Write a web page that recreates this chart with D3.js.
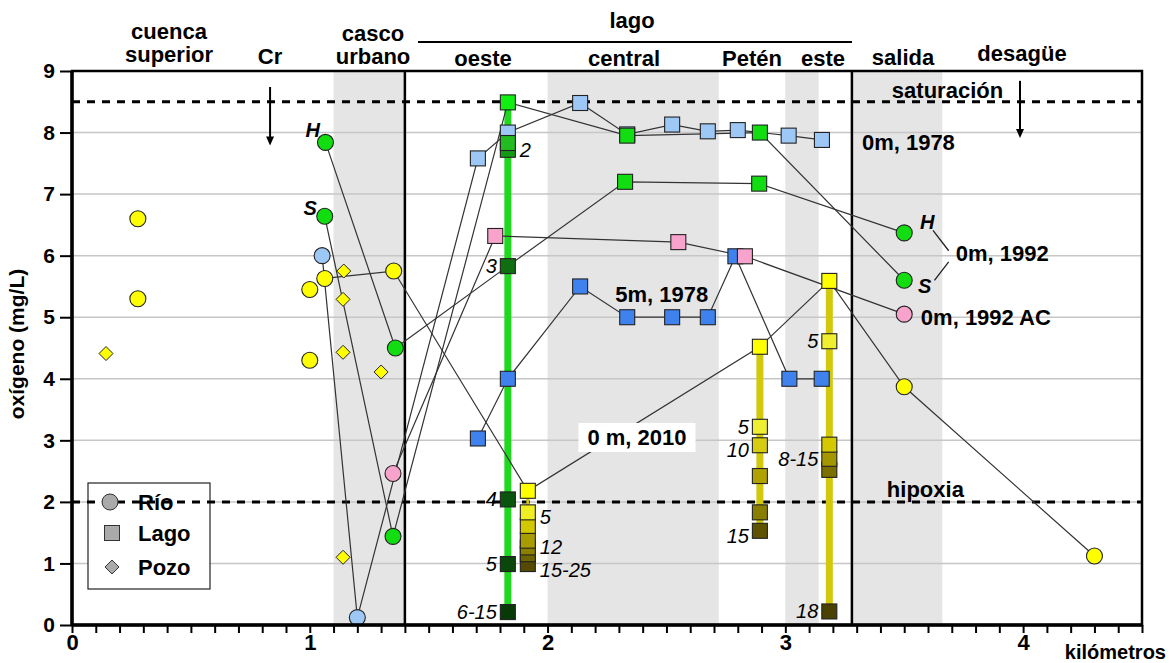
<!DOCTYPE html>
<html><head><meta charset="utf-8">
<script src="https://cdn.jsdelivr.net/npm/d3@7"></script>
<style>body{margin:0;background:#fff} text{font-family:"Liberation Sans",Arial,sans-serif;fill:#000}</style>
</head><body><svg id="c" width="1171" height="663"></svg>
<script>
// ---------------- DATA ----------------
const yTickValues = [0,1,2,3,4,5,6,7,8,9];
const xMajorTicks = [0,1,2,3,4];
const grayBands = [[1.1,1.4],[2.0,2.72],[3.0,3.14],[3.28,3.66]];
const dividers = [1.4, 3.28];
const saturacion = 8.5;
const hipoxia = 2.0;

// isolated river (yellow) circles and wells
const rioAislados = [[0.277,6.6],[0.277,5.3],[1.0,5.45],[1.0,4.3]];
const pozos = [[0.143,4.41],[1.143,5.75],[1.14,5.29],[1.14,4.43],[1.30,4.11],[1.14,1.10]];

// 0m 1978 (light blue)
const m0y1978Rio = [[1.052,6.0],[1.2,0.12]];
const m0y1978Lago = [[1.707,7.58],[1.833,8.0],[2.137,8.48],[2.335,7.97],[2.524,8.13],[2.674,8.02],[2.80,8.04],[3.014,7.95],[3.154,7.88]];
// 5m 1978 (blue)
const m5y1978Lago = [[1.707,3.03],[1.833,4.0],[2.137,5.5],[2.335,5.0],[2.524,5.0],[2.674,5.0],[2.79,5.99],[3.017,4.0],[3.153,4.0]];
// 0m 1992 H (green)
const hRio = [[1.066,7.84],[1.36,4.5]];
const hLago = [[1.833,5.83],[2.326,7.2],[2.89,7.17]];
const hSalida = [[3.5,6.37]];
// 0m 1992 S (green)
const sRio = [[1.063,6.64],[1.35,1.44]];
const sLago = [[1.833,8.49],[2.335,7.95],[2.893,8.0]];
const sSalida = [[3.5,5.6]];
// 0m 1992 AC (pink)
const acRio = [[1.35,2.46]];
const acLago = [[1.78,6.32],[2.55,6.22],[2.83,5.99]];
const acSalida = [[3.5,5.05]];
// 0 m 2010 (yellow)
const y2010Rio = [[1.063,5.63],[1.353,5.75]];
const y2010Lago = [[1.917,2.18],[2.893,4.52],[3.185,5.59]];
const y2010Salida = [[3.5,3.87],[4.3,1.12]];

// depth profiles
const perfilOesteX = 1.833;
const perfilOesteVals = [8.49,7.83,7.72,5.83,2.04,0.99,0.21];
const perfilOesteLabels = [[7.72,"2","r"],[5.83,"3","l"],[2.04,"4","l"],[0.99,"5","l"],[0.21,"6-15","l"]];

const perfil2010OesteX = 1.917;
const perfil2010OesteVals = [2.18,1.83,1.61,1.37,1.26,1.15,0.99];
const perfil2010OesteLabels = [[1.75,"5","r"],[1.26,"12","r"],[0.90,"15-25","r"]];

const perfilPetenX = 2.893;
const perfilPetenVals = [4.52,3.22,2.92,2.42,1.83,1.53];
const perfilPetenLabels = [[3.22,"5","l"],[2.85,"10","l"],[1.45,"15","l"]];

const perfilEsteX = 3.185;
const perfilEsteVals = [5.59,4.61,2.93,2.70,2.52,0.22];
const perfilEsteLabels = [[4.61,"5","l"],[2.70,"8-15","l"],[0.22,"18","l"]];

// ---------------- STYLE ----------------
const colOeste = ["#11ee11","#22bb22","#159a15","#0f6e0f","#0b540b","#0a470a","#073a07"];
const col2010Oeste = ["#ffff00","#eeee22","#d2c800","#a89c00","#8c8000","#6e6400","#554a00"];
const colPeten = ["#ffff00","#eeee33","#d6cc10","#b0a200","#8a7e00","#5e5400"];
const colEste = ["#ffff00","#efef30","#d4c800","#a49600","#7c7000","#4a4200"];

const svg = d3.select("#c");
const x = d3.scaleLinear().domain([0,4.5]).range([72,1142]);
const y = d3.scaleLinear().domain([0,9]).range([625,71]);
const FONT = '"Liberation Sans",Arial,sans-serif';

// bands
svg.selectAll("rect.band").data(grayBands).join("rect")
  .attr("x",d=>x(d[0])).attr("y",y(9)).attr("width",d=>x(d[1])-x(d[0]))
  .attr("height",y(0)-y(9)).attr("fill","#e5e5e5");

// gridlines
svg.selectAll("line.grid").data(yTickValues.filter(v=>v>0&&v<9)).join("line")
  .attr("x1",x(0)).attr("x2",x(4.5)).attr("y1",d=>y(d)).attr("y2",d=>y(d))
  .attr("stroke","#c6c6c6").attr("stroke-width",1.5);

// legend box
const lg = svg.append("g");
lg.append("rect").attr("x",88).attr("y",483).attr("width",122).attr("height",106)
  .attr("fill","#fff").attr("stroke","#222").attr("stroke-width",1.2);

// dashed lines
[saturacion, hipoxia].forEach(v=>{
  svg.append("line").attr("x1",x(0)).attr("x2",x(4.5)).attr("y1",y(v)).attr("y2",y(v))
    .attr("stroke","#000").attr("stroke-width",3).attr("stroke-dasharray","8,7");
});

// dividers
svg.selectAll("line.div").data(dividers).join("line")
  .attr("x1",d=>x(d)).attr("x2",d=>x(d)).attr("y1",y(9)).attr("y2",y(0))
  .attr("stroke","#000").attr("stroke-width",2.5);

// thick profile bars
function bar(px, vals, color, w){
  svg.append("line").attr("x1",x(px)).attr("x2",x(px))
    .attr("y1",y(d3.max(vals))).attr("y2",y(d3.min(vals)))
    .attr("stroke",color).attr("stroke-width",w);
}
bar(perfilOesteX, perfilOesteVals, "#1fd81f", 7);
bar(perfil2010OesteX, perfil2010OesteVals, "#cfc61a", 3);
bar(perfilPetenX, perfilPetenVals, "#d2c90a", 7);
bar(perfilEsteX, perfilEsteVals, "#d2c90a", 7);

// series lines
const series = [
  {pts:[...m0y1978Rio,...m0y1978Lago]},
  {pts:m5y1978Lago},
  {pts:[...hRio,...hLago,...hSalida]},
  {pts:[...sRio,...sLago,...sSalida]},
  {pts:[...acRio,...acLago,...acSalida]},
  {pts:[...y2010Rio,...y2010Lago,...y2010Salida]}
];
const line = d3.line().x(d=>x(d[0])).y(d=>y(d[1]));
svg.selectAll("path.ser").data(series).join("path")
  .attr("d",d=>line(d.pts)).attr("fill","none").attr("stroke","#333").attr("stroke-width",1.2);

// label with white bg "0 m, 2010"
const t2010 = svg.append("text").attr("x",x(2.376)).attr("y",y(2.924)).attr("text-anchor","middle")
  .attr("font-size",22).attr("font-weight","bold").text("0 m, 2010");
const bb = t2010.node().getBBox();
svg.insert("rect","text").attr("x",bb.x-9).attr("y",bb.y-2).attr("width",bb.width+18).attr("height",bb.height+4).attr("fill","#fff");
t2010.raise();

// markers
const SQ = 15, R = 8;
function squares(pts, fill){
  svg.append("g").selectAll("rect").data(pts).join("rect")
    .attr("x",d=>x(d[0])-SQ/2).attr("y",d=>y(d[1])-SQ/2).attr("width",SQ).attr("height",SQ)
    .attr("fill",(d,i)=>typeof fill==="function"?fill(d,i):fill).attr("stroke","#222").attr("stroke-width",1.1);
}
function circles(pts, fill){
  svg.append("g").selectAll("circle").data(pts).join("circle")
    .attr("cx",d=>x(d[0])).attr("cy",d=>y(d[1])).attr("r",R)
    .attr("fill",fill).attr("stroke","#222").attr("stroke-width",1.1);
}
function diamonds(pts, fill){
  svg.append("g").selectAll("path").data(pts).join("path")
    .attr("d",d=>{const cx=x(d[0]),cy=y(d[1]),h=7;return `M${cx},${cy-h}L${cx+h},${cy}L${cx},${cy+h}L${cx-h},${cy}Z`;})
    .attr("fill",fill).attr("stroke","#222").attr("stroke-width",1);
}
const profPts = (px, vals) => vals.map(v=>[px,v]);

circles(rioAislados, "#ffff00");
diamonds(pozos, "#ffff00");
circles(m0y1978Rio, "#9dc8f5");
squares(m0y1978Lago, "#9dc8f5");
squares(m5y1978Lago, "#3f82ee");
circles([...hRio,...hSalida], "#11dd11");
circles([...sRio,...sSalida], "#11dd11");
squares(sLago.slice(1), "#11dd11");
squares(hLago.slice(1), "#11dd11");
circles([...acRio,...acSalida], "#f7a3cc");
squares(acLago, "#f7a3cc");
circles([...y2010Rio,...y2010Salida], "#ffff00");

squares(profPts(perfilOesteX, perfilOesteVals).slice().reverse(), (d,i)=>colOeste[perfilOesteVals.length-1-i]);
squares(profPts(perfil2010OesteX, perfil2010OesteVals).slice().reverse(), (d,i)=>col2010Oeste[perfil2010OesteVals.length-1-i]);
squares(profPts(perfilPetenX, perfilPetenVals).slice().reverse(), (d,i)=>colPeten[perfilPetenVals.length-1-i]);
squares(profPts(perfilEsteX, perfilEsteVals).slice().reverse(), (d,i)=>colEste[perfilEsteVals.length-1-i]);

// depth labels
function depthLabels(px, labels){
  svg.append("g").selectAll("text").data(labels).join("text")
    .attr("x",d=>d[2]==="r"? x(px)+12 : x(px)-11)
    .attr("y",d=>y(d[0])+7)
    .attr("text-anchor",d=>d[2]==="r"?"start":"end")
    .attr("font-size",20).attr("font-style","italic").text(d=>d[1]);
}
depthLabels(perfilOesteX, perfilOesteLabels);
depthLabels(perfil2010OesteX, perfil2010OesteLabels);
depthLabels(perfilPetenX, perfilPetenLabels);
depthLabels(perfilEsteX, perfilEsteLabels);

// in-plot annotations
function txt(xv, yv, s, opts={}){
  return svg.append("text").attr("x",x(xv)).attr("y",y(yv))
    .attr("text-anchor",opts.anchor||"start").attr("font-size",opts.size||22)
    .attr("font-weight",opts.weight||"bold").attr("font-style",opts.style||"normal").text(s);
}
txt(3.682, 8.56, "saturación", {anchor:"middle"});
txt(3.322, 7.716, "0m, 1978");
txt(3.427, 2.08, "hipoxia");
txt(2.48, 5.247, "5m, 1978", {anchor:"middle"});
txt(3.717, 5.913, "0m, 1992");
txt(3.570, 4.873, "0m, 1992 AC");
txt(1.043, 7.927, "H", {anchor:"end", style:"italic", size:20});
txt(1.030, 6.66, "S", {anchor:"end", style:"italic", size:20});
txt(3.566, 6.433, "H", {style:"italic", size:20});
txt(3.558, 5.393, "S", {style:"italic", size:20});
// leader for 0m,1992
svg.append("path").attr("d",`M${x(3.621)},${y(6.41)}L${x(3.687)},${y(6.08)}M${x(3.687)},${y(5.9)}L${x(3.627)},${y(5.6)}`)
  .attr("fill","none").attr("stroke","#222").attr("stroke-width",1.3);

// arrows
const arrows = [[0.833,8.74,7.79],[3.987,8.84,7.91]];
arrows.forEach(a=>{
  const ax=x(a[0]), y1=y(a[1]), y2=y(a[2]);
  svg.append("line").attr("x1",ax).attr("x2",ax).attr("y1",y1).attr("y2",y2-6).attr("stroke","#000").attr("stroke-width",2);
  svg.append("path").attr("d",`M${ax-4},${y2-9}L${ax+4},${y2-9}L${ax},${y2}Z`).attr("fill","#000");
});

// frame
svg.append("rect").attr("x",x(0)).attr("y",y(9)).attr("width",x(4.5)-x(0)).attr("height",y(0)-y(9))
  .attr("fill","none").attr("stroke","#000").attr("stroke-width",2.5);
svg.append("line").attr("x1",x(0)).attr("x2",x(0)).attr("y1",y(9)).attr("y2",y(0)).attr("stroke","#000").attr("stroke-width",3.5);
svg.append("line").attr("x1",x(0)).attr("x2",x(4.5)).attr("y1",y(0)).attr("y2",y(0)).attr("stroke","#000").attr("stroke-width",3.5);

// axes
const xTicksAll = d3.range(46).map(i=>i/10);
const xAxis = d3.axisBottom(x).tickValues(xTicksAll).tickSize(8)
  .tickFormat(d=> xMajorTicks.some(m=>Math.abs(m-d)<1e-9) ? d3.format("d")(d) : "");
const gx = svg.append("g").attr("transform",`translate(0,${y(0)})`).call(xAxis);
gx.select(".domain").remove();
gx.selectAll(".tick line").attr("stroke","#000").attr("stroke-width",2);
gx.selectAll(".tick text").attr("y",25).attr("dy",0).attr("font-size",22).attr("font-weight","bold").attr("font-family",FONT).attr("fill","#000");

const yAxis = d3.axisLeft(y).tickValues(yTickValues).tickSize(12).tickFormat(d3.format("d"));
const gy = svg.append("g").attr("transform",`translate(${x(0)},0)`).call(yAxis);
gy.select(".domain").remove();
gy.selectAll(".tick line").attr("stroke","#000").attr("stroke-width",2);
gy.selectAll(".tick text").attr("x",-17).attr("font-size",21).attr("font-weight","bold").attr("font-family",FONT).attr("fill","#000");

svg.append("text").attr("transform",`translate(24,344) rotate(-90)`).attr("text-anchor","middle")
  .attr("font-size",21).attr("font-weight","bold").text("oxígeno (mg/L)");
svg.append("text").attr("x",1166).attr("y",659).attr("text-anchor","end").attr("font-size",20).attr("font-weight","bold").text("kilómetros");

// headers
const headers = [
  [169,39,"cuenca"],[169,62,"superior"],[270,64,"Cr"],[373,41,"casco"],[373,64,"urbano"],
  [632,28,"lago"],[483,66,"oeste"],[624,66,"central"],[752,66,"Petén"],[823,66,"este"],
  [903,65,"salida"],[1022,61,"desagüe"]
];
svg.append("g").selectAll("text").data(headers).join("text")
  .attr("x",d=>d[0]).attr("y",d=>d[1]).attr("text-anchor","middle")
  .attr("font-size",22).attr("font-weight","bold").text(d=>d[2]);
svg.append("line").attr("x1",418).attr("x2",852).attr("y1",42).attr("y2",42).attr("stroke","#000").attr("stroke-width",2);

// legend contents
const legendItems = [["circle","Río"],["square","Lago"],["diamond","Pozo"]];
const lgY = [502, 533, 567];
const lgC = svg.append("g");
legendItems.forEach((it,i)=>{
  const cy = lgY[i], cx = 112;
  if(it[0]==="circle") lgC.append("circle").attr("cx",cx-2).attr("cy",cy).attr("r",8).attr("fill","#aaa").attr("stroke","#333");
  if(it[0]==="square") lgC.append("rect").attr("x",cx-7.5).attr("y",cy-7.5).attr("width",15).attr("height",15).attr("fill","#aaa").attr("stroke","#333");
  if(it[0]==="diamond") lgC.append("path").attr("d",`M${cx},${cy-7}L${cx+7},${cy}L${cx},${cy+7}L${cx-7},${cy}Z`).attr("fill","#aaa").attr("stroke","#333");
  lgC.append("text").attr("x",138).attr("y",cy+8).attr("font-size",22).attr("font-weight","bold").text(it[1]);
});
</script></body></html>
